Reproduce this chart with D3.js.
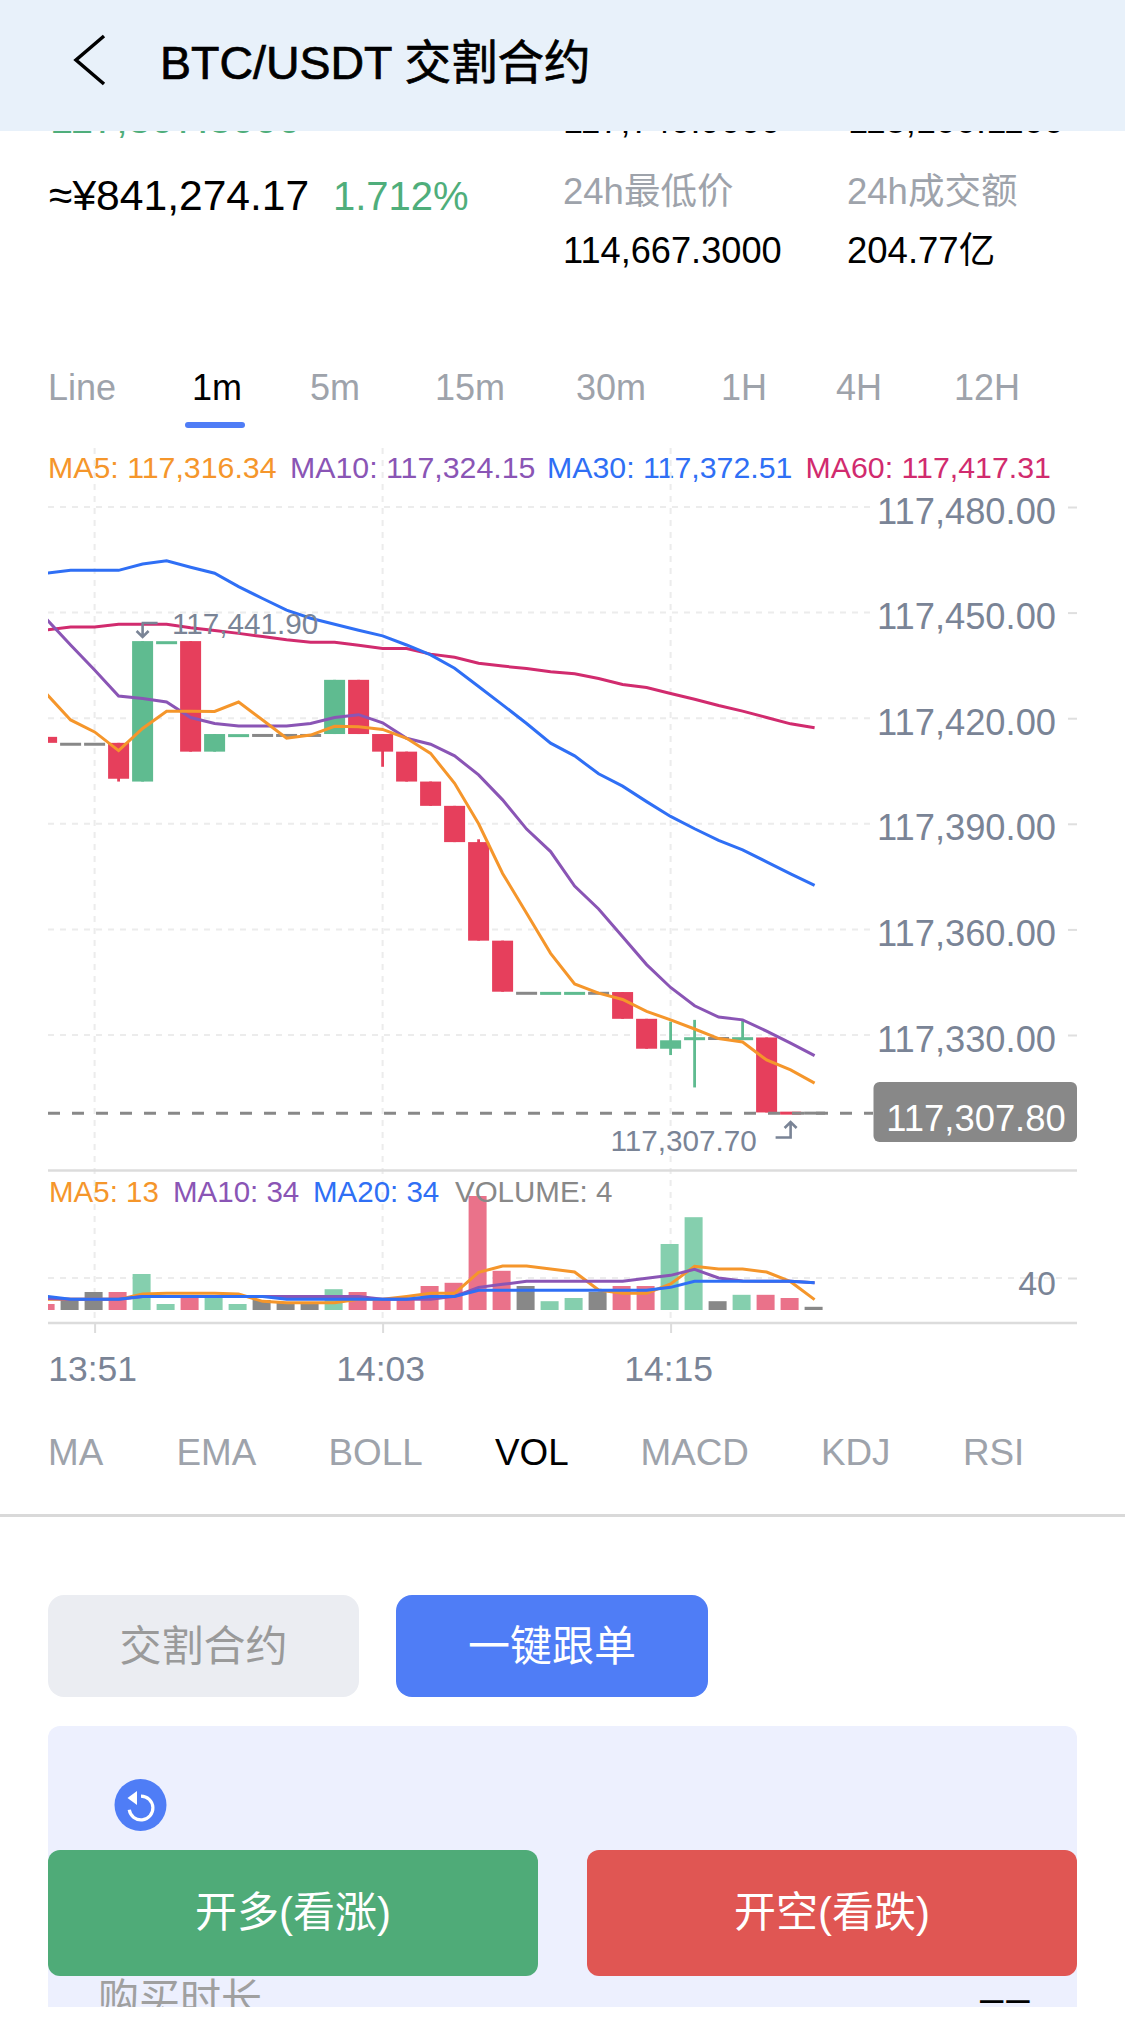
<!DOCTYPE html>
<html>
<head>
<meta charset="utf-8">
<script src="https://cdn.jsdelivr.net/npm/d3@7"></script>
<style>
  html, body { margin: 0; padding: 0; background: #fff; }
  svg { display: block; }
  text { font-family: "Liberation Sans", "Noto Sans CJK SC", sans-serif; }
</style>
</head>
<body>
<div id="chart"></div>
<script>
// Chart data. One entry per minute, 13:49 to 14:21.
const times = ['13:49','13:50','13:51','13:52','13:53','13:54','13:55','13:56','13:57','13:58','13:59',
  '14:00','14:01','14:02','14:03','14:04','14:05','14:06','14:07','14:08','14:09','14:10','14:11','14:12',
  '14:13','14:14','14:15','14:16','14:17','14:18','14:19','14:20','14:21'];

const opens = [117414.7,117412.6,117412.6,117413,117402,117441.4,117441.9,117410.5,117415,117415.1,117415.1,117415.1,
  117415.5,117430.9,117415.5,117410.5,117402,117395.1,117384.8,117356.8,117341.85,117341.8,117341.8,117341.85,
  117342.2,117334.6,117326.1,117328.9,117329,117328.9,117329.3,117307.9,117307.8];
const closes = [117413,117412.6,117412.6,117402.8,117441.9,117441.5,117410.5,117415.5,117415.1,117415.1,117415.1,117415.1,
  117430.9,117415.5,117410.5,117402,117395.1,117384.8,117356.8,117342.3,117341.85,117341.85,117341.85,117341.85,
  117334.6,117326.1,117328.5,117329,117329,117329,117308,117307.7,117307.8];
const highs = [117414.7,117412.6,117412.6,117413,117441.9,117441.5,117441.9,117415.5,117415.1,117415.1,117415.1,117415.1,
  117430.9,117430.9,117415.5,117410.5,117402,117395.1,117385.6,117356.8,117341.85,117341.85,117341.85,117341.85,
  117342.2,117334.6,117333.8,117334.3,117329,117334.3,117329.3,117307.9,117307.8];
const lows = [117413,117412.6,117412.6,117402,117402,117441.4,117410.5,117410.5,117415,117415.1,117415.1,117415.1,
  117415.5,117415.5,117406.2,117402,117395.1,117384.8,117356.8,117342.3,117341.85,117341.8,117341.8,117341.85,
  117334.6,117326.1,117324.3,117315.1,117329,117328.9,117308,117307.7,117307.8];

const ma5 = [117426.9,117419.5,117416.1,117410.8,117417.1,117422,117422,117421.9,117424.6,117419.5,117414.3,117415.2,
  117417.7,117417.6,117416.8,117414.3,117410,117401.5,117390,117375.9,117364.6,117353.2,117344.5,117341.9,
  117340.1,117336.7,117334.3,117331.7,117329,117328,117322.9,117320.1,117316.34];
const ma10 = [117448.1,117440.8,117433.7,117426.3,117425.6,117424.6,117420.2,117418.5,117417.8,117417.8,117417.8,117418.5,
  117420.2,117421,117418.7,117414.3,117412.6,117409.3,117403.9,117396.8,117388.5,117382.1,117372.3,117365.8,
  117357.9,117350,117343.5,117338.3,117335.1,117334.3,117331.1,117327.7,117324.15];
const ma30 = [117461.2,117462,117462,117462,117463.8,117464.7,117462.9,117461.2,117457.4,117454,117450.7,117448.4,
  117446.7,117445,117443.4,117440.8,117438,117434.2,117429,117423.8,117418.5,117412.9,117409.3,117404.2,
  117400.7,117396.3,117392.1,117388.6,117385.3,117382.6,117379.2,117375.8,117372.51];
const ma60 = [117445.1,117445.9,117445.9,117446.7,117446.7,117446.7,117445.7,117444.9,117444.1,117443.2,117442.3,117441.6,
  117441.6,117440.7,117439.8,117439.8,117438.2,117437.3,117435.6,117434.8,117434.1,117433.2,117432.6,117431.3,
  117429.6,117428.7,117427,117425.4,117423.6,117422,117420.2,117418.4,117417.31];

const volumes = [7.5,14.6,22.5,22.5,45,7.5,15,15,7.5,12.5,10,10,26,22.5,15,15,30,34,142.5,49,30,11,15,22.5,30,30,82.5,116,11,19,19,15,4];
const volMa5 = [13.3,13.3,13.3,13.3,20,20.8,20.8,20.8,20,10.8,9.2,9.2,9.2,13.3,13.3,17,20.8,20.8,47,55,55,51.2,47.5,25,20.8,20.8,32.5,54.6,51.2,51.2,47.5,35.4,13];
const volMa10 = [14.6,13.3,13.3,13.3,17,17,17,17,17,17,17,17,17,17,13.3,13.3,13.3,17,28.3,32.1,35.8,35.8,35.8,35.8,35.8,39.6,43.3,50.8,40,36.3,35.8,35.8,34];
const volMa20 = [17,13.3,13.3,13.3,17,17,17,17,17,17,13.3,13.3,13.3,13.3,13.3,13.3,17,17,24.6,24.6,24.6,24.6,24.6,24.6,24.6,24.6,28.3,35.8,35.8,35.8,35.8,35.8,34];

const priceTicks = [117330,117360,117390,117420,117450,117480];
const timeTicks = ['13:51','14:03','14:15'];
const lastPrice = 117307.8;
const highLabel = 117441.9;
const lowLabel = 117307.7;

const maLegend = [['MA5: 117,316.34','#f5962b',48],['MA10: 117,324.15','#8a55b5',290],['MA30: 117,372.51','#2f6ff5',547],['MA60: 117,417.31','#d12b6e',805.5]];
const volLegend = [['MA5: 13','#f5962b',49],['MA10: 34','#8a55b5',173],['MA20: 34','#2f6ff5',313],['VOLUME: 4','#888888',455]];
const periods = [['Line',48],['1m',192],['5m',310],['15m',435],['30m',576],['1H',721],['4H',836],['12H',954]];
const indicators = [['MA',48],['EMA',176.5],['BOLL',328.5],['VOL',495],['MACD',640.5],['KDJ',821],['RSI',963]];

const GREEN = '#5fbb90', RED = '#e63f5c', GRAY = '#888888', AXIS = '#7a8496', MUTED = '#9ea3ab', BLUE = '#4f7df6';

const svg = d3.select('#chart').append('svg').attr('width', 1125).attr('height', 2040);

function label(parent, x, y, str, size, fill, anchor) {
    return parent.append('text').attr('x', x).attr('y', y).attr('font-size', size)
        .attr('fill', fill).attr('text-anchor', anchor || 'start').text(str);
}

// Scales
const x = d3.scalePoint().domain(times).range([46.6, 814.6]);
const y = d3.scaleLinear().domain([117330, 117480]).range([1035, 507]);
const yVol = d3.scaleLinear().domain([0, 40]).range([1310, 1278]);
const candleW = 21, volW = 18;

svg.append('clipPath').attr('id', 'plot').append('rect').attr('x', 48).attr('y', 440).attr('width', 1029).attr('height', 900);

// Price summary, top row runs under the header
label(svg, 50, 133, '117,307.8000', 41.5, '#4fae7b');
label(svg, 563, 133, '117,740.9000', 36, '#000');
label(svg, 848, 133, '118,100.1100', 36.2, '#000');
label(svg, 49, 210, '≈¥841,274.17', 42.6, '#000');
label(svg, 333, 210, '1.712%', 40, '#4fae7b');
label(svg, 563, 204, '24h最低价', 36.5, MUTED);
label(svg, 847, 204, '24h成交额', 36.5, MUTED);
label(svg, 563, 263, '114,667.3000', 36.2, '#000');
label(svg, 847, 263, '204.77亿', 36.5, '#000');

// Header
svg.append('rect').attr('width', 1125).attr('height', 131).attr('fill', '#e8f1fa');
svg.append('path').attr('d', 'M104,36 L76,60 L104,84').attr('fill', 'none').attr('stroke', '#000').attr('stroke-width', 3.5);
label(svg, 160, 79, 'BTC/USDT 交割合约', 46.5, '#000').attr('stroke', '#000').attr('stroke-width', 0.7);

// Period tabs
periods.forEach(p => label(svg, p[1], 400, p[0], 36, p[0] === '1m' ? '#000' : MUTED));
svg.append('rect').attr('x', 185).attr('y', 422).attr('width', 60).attr('height', 6).attr('rx', 3).attr('fill', BLUE);
maLegend.forEach(m => label(svg, m[2], 478, m[0], 30.3, m[1]));

// Grid
const grid = svg.append('g').attr('fill', 'none').attr('stroke', '#ececec').attr('stroke-width', 2).attr('stroke-dasharray', '6 6');
priceTicks.forEach(t => grid.append('line').attr('x1', 48).attr('x2', 872).attr('y1', y(t)).attr('y2', y(t)));
grid.append('line').attr('x1', 48).attr('x2', 1066).attr('y1', yVol(40)).attr('y2', yVol(40));
timeTicks.forEach(t => grid.append('line').attr('x1', x(t)).attr('x2', x(t)).attr('y1', 448).attr('y2', 1323));

// Price axis and volume axis on the right
const priceAxis = svg.append('g').attr('transform', 'translate(1068,0)')
    .call(d3.axisRight(y).tickValues(priceTicks).tickSize(9).tickFormat(d3.format(',.2f')));
const volAxis = svg.append('g').attr('transform', 'translate(1068,0)')
    .call(d3.axisRight(yVol).tickValues([40]).tickSize(9));
[priceAxis, volAxis].forEach(a => {
    a.select('.domain').remove();
    a.selectAll('line').attr('stroke', '#dfdfdf').attr('stroke-width', 2);
    a.selectAll('text').attr('x', -12).attr('dy', 16).attr('text-anchor', 'end').attr('font-size', 36.3).attr('fill', AXIS)
        .style('font-family', '"Liberation Sans"');
});
volAxis.selectAll('text').attr('dy', 16).attr('font-size', 34);

// Candles
const plot = svg.append('g').attr('clip-path', 'url(#plot)');
const candleColor = i => closes[i] > opens[i] ? GREEN : closes[i] < opens[i] ? RED : GRAY;

plot.selectAll('.wick').data(times).join('line').attr('class', 'wick')
    .attr('x1', d => x(d)).attr('x2', d => x(d))
    .attr('y1', (d, i) => y(highs[i])).attr('y2', (d, i) => y(lows[i]))
    .attr('stroke', (d, i) => candleColor(i)).attr('stroke-width', 2.8);

plot.selectAll('.body').data(times).join('rect').attr('class', 'body')
    .attr('x', d => x(d) - candleW / 2).attr('width', candleW)
    .attr('y', (d, i) => {
        const top = y(Math.max(opens[i], closes[i])), bottom = y(Math.min(opens[i], closes[i]));
        return bottom - top < 3 ? (top + bottom) / 2 - 1.5 : top;
    })
    .attr('height', (d, i) => Math.max(3, Math.abs(y(opens[i]) - y(closes[i]))))
    .attr('fill', (d, i) => candleColor(i));

// Last price line
svg.append('line').attr('x1', 48).attr('x2', 873).attr('y1', y(lastPrice)).attr('y2', y(lastPrice))
    .attr('stroke', GRAY).attr('stroke-width', 3).attr('stroke-dasharray', '12 12');
svg.append('rect').attr('x', 873.5).attr('y', 1082).attr('width', 203.5).attr('height', 60).attr('rx', 6).attr('fill', GRAY);
label(svg, 976, 1131, d3.format(',.2f')(lastPrice), 36.4, '#fff', 'middle');

// MA lines
const maLine = d3.line().x((d, i) => x(times[i])).y(d => y(d));
[[ma60, '#d12b6e'], [ma30, '#2f6ff5'], [ma10, '#8a55b5'], [ma5, '#f5962b']].forEach(s => {
    plot.append('path').attr('d', maLine(s[0])).attr('fill', 'none').attr('stroke', s[1]).attr('stroke-width', 3);
});

// High and low markers
const hx = x('13:53');
const lx = x('14:20');
label(svg, 172, 634, d3.format(',.2f')(highLabel), 29.7, AXIS);
svg.append('path').attr('d', `M${hx - 1},623 H${hx + 15} M${hx},623 V637 M${hx - 6},631 L${hx},637 L${hx + 6},631`)
    .attr('fill', 'none').attr('stroke', AXIS).attr('stroke-width', 2.6);
label(svg, 610.5, 1151, d3.format(',.2f')(lowLabel), 29.7, AXIS);
svg.append('path').attr('d', `M${lx - 15},1137.5 H${lx} V1122 M${lx - 6},1128 L${lx},1122 L${lx + 6},1128`)
    .attr('fill', 'none').attr('stroke', AXIS).attr('stroke-width', 2.6);

// Volume pane
const border = svg.append('g').attr('stroke', '#dcdcdc').attr('stroke-width', 2.6);
border.append('line').attr('x1', 48).attr('x2', 1077).attr('y1', 1170.5).attr('y2', 1170.5);
border.append('line').attr('x1', 48).attr('x2', 1077).attr('y1', 1323).attr('y2', 1323);

const volColor = i => closes[i] > opens[i] ? '#85cfae' : closes[i] < opens[i] ? '#ea728a' : GRAY;
plot.selectAll('.vol').data(times).join('rect').attr('class', 'vol')
    .attr('x', d => x(d) - volW / 2 - 1).attr('width', volW)
    .attr('y', (d, i) => yVol(volumes[i]))
    .attr('height', (d, i) => yVol(0) - yVol(volumes[i]))
    .attr('fill', (d, i) => volColor(i));

const volLine = d3.line().x((d, i) => x(times[i])).y(d => yVol(d));
[[volMa5, '#f5962b'], [volMa10, '#8a55b5'], [volMa20, '#2f6ff5']].forEach(s => {
    plot.append('path').attr('d', volLine(s[0])).attr('fill', 'none').attr('stroke', s[1]).attr('stroke-width', 3);
});
volLegend.forEach(m => label(svg, m[2], 1201.5, m[0], 29.5, m[1]));

// Time axis
const timeAxis = svg.append('g').attr('transform', 'translate(0,1323)')
    .call(d3.axisBottom(x).tickValues(timeTicks).tickSize(10));
timeAxis.select('.domain').remove();
timeAxis.selectAll('line').attr('stroke', '#dcdcdc').attr('stroke-width', 2);
timeAxis.selectAll('text').attr('x', -2.5).attr('y', 58).attr('dy', 0).attr('font-size', 35.5).attr('fill', AXIS)
    .style('font-family', '"Liberation Sans"');

// Indicator tabs
indicators.forEach(p => label(svg, p[1], 1465, p[0], 36.8, p[0] === 'VOL' ? '#000' : MUTED));
svg.append('rect').attr('y', 1514).attr('width', 1125).attr('height', 3).attr('fill', '#d9d9d9');

// Buttons and lower panel
svg.append('rect').attr('x', 48).attr('y', 1595).attr('width', 311).attr('height', 102).attr('rx', 16).attr('fill', '#ebedf2');
label(svg, 203.5, 1661, '交割合约', 42, '#9a9a9a', 'middle');
svg.append('rect').attr('x', 396).attr('y', 1595).attr('width', 312).attr('height', 102).attr('rx', 16).attr('fill', BLUE);
label(svg, 552, 1661, '一键跟单', 42, '#fff', 'middle');

svg.append('clipPath').attr('id', 'panel').append('rect').attr('x', 48).attr('y', 1726).attr('width', 1029).attr('height', 281);
const panel = svg.append('g').attr('clip-path', 'url(#panel)');
panel.append('rect').attr('x', 48).attr('y', 1726).attr('width', 1029).attr('height', 300).attr('rx', 12).attr('fill', '#edf0fe');
label(panel, 98, 2013, '购买时长', 41, '#a0a0a0');
label(panel, 980, 2012, '––', 42, '#000').attr('letter-spacing', 3);

svg.append('circle').attr('cx', 140.5).attr('cy', 1805).attr('r', 26).attr('fill', BLUE);
const arc = d3.arc().innerRadius(10.3).outerRadius(13.5).startAngle(0).endAngle(Math.PI * 1.45);
svg.append('path').attr('transform', 'translate(141,1808)').attr('d', arc()).attr('fill', '#fff');
svg.append('path').attr('d', 'M127.5,1798 L137,1791 L137,1805 Z').attr('fill', '#fff');

svg.append('rect').attr('x', 48).attr('y', 1850).attr('width', 490).attr('height', 126).attr('rx', 12).attr('fill', '#4fab78');
label(svg, 293, 1927, '开多(看涨)', 42, '#fff', 'middle');
svg.append('rect').attr('x', 587).attr('y', 1850).attr('width', 490).attr('height', 126).attr('rx', 12).attr('fill', '#e05653');
label(svg, 832, 1927, '开空(看跌)', 42, '#fff', 'middle');
</script>
</body>
</html>
